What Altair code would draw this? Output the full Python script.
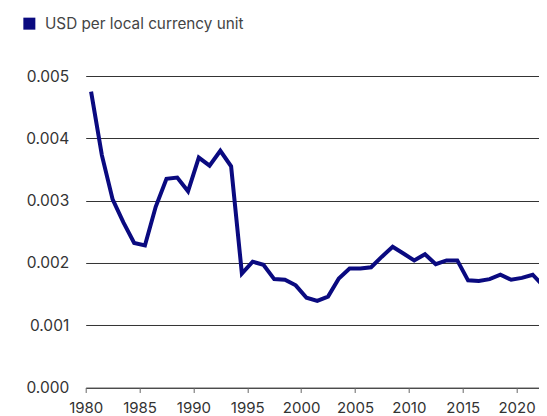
import altair as alt
import pandas as pd

years = list(range(1980, 2023))
usd_per_unit = [
    0.00475, 0.00373, 0.00302, 0.00265, 0.00232, 0.00228, 0.00290, 0.00335, 0.00337, 0.00315,
    0.00369, 0.00356, 0.00380, 0.00355, 0.00183, 0.00202, 0.00197, 0.00174, 0.00173, 0.00164,
    0.00144, 0.00139, 0.00146, 0.00175, 0.00191, 0.00191, 0.00193, 0.00210, 0.00226, 0.00215,
    0.00204, 0.00214, 0.00198, 0.00204, 0.00204, 0.00172, 0.00171, 0.00174, 0.00181, 0.00173,
    0.00176, 0.00181, 0.00163,
]
series_name = "USD per local currency unit"
x_ticks = [1980, 1985, 1990, 1995, 2000, 2005, 2010, 2015, 2020]
y_ticks = [0.000, 0.001, 0.002, 0.003, 0.004, 0.005]

df = pd.DataFrame({"year": years, "value": usd_per_unit, "series": series_name})

FONT = "Inter"

chart = (
    alt.Chart(df)
    .transform_calculate(xpos="datum.year + 0.5")
    .mark_line(strokeWidth=4, clip=True, strokeJoin="miter")
    .encode(
        x=alt.X(
            "xpos:Q",
            scale=alt.Scale(domain=[1980, 2022.8], nice=False, zero=False),
            axis=alt.Axis(
                values=x_ticks, format="d", title=None, grid=False,
                tickSize=5, tickColor="#666", domainColor="#666",
                labelFontSize=15, labelPadding=8, labelColor="#333",
                labelFont=FONT, labelFlush=False, labelOverlap=False,
            ),
        ),
        y=alt.Y(
            "value:Q",
            scale=alt.Scale(domain=[0, 0.005], nice=False),
            axis=alt.Axis(
                values=y_ticks, format=".3f", title=None, grid=True,
                gridColor="#333", gridWidth=1, ticks=False, domain=False,
                labelFontSize=15.5, labelPadding=17, labelColor="#333",
                labelFont=FONT,
            ),
        ),
        color=alt.Color(
            "series:N",
            scale=alt.Scale(range=["#0a0a80"]),
            legend=alt.Legend(
                title=None, orient="none", legendX=-64, legendY=-60,
                symbolType="square", symbolSize=144, symbolStrokeWidth=0,
                symbolFillColor="#0a0a80",
                labelFontSize=15.3, labelFont=FONT, labelColor="#444",
                labelOffset=8, padding=0, labelLimit=400,
            ),
        ),
    )
    .properties(
        width=461,
        height=311.5,
        padding={"left": 77.7, "top": 68, "right": -8, "bottom": 28},
        autosize=alt.AutoSizeParams(type="none"),
    )
    .configure_view(stroke=None)
)

chart.save("out.html", embed_options={"renderer": "svg", "actions": False})
